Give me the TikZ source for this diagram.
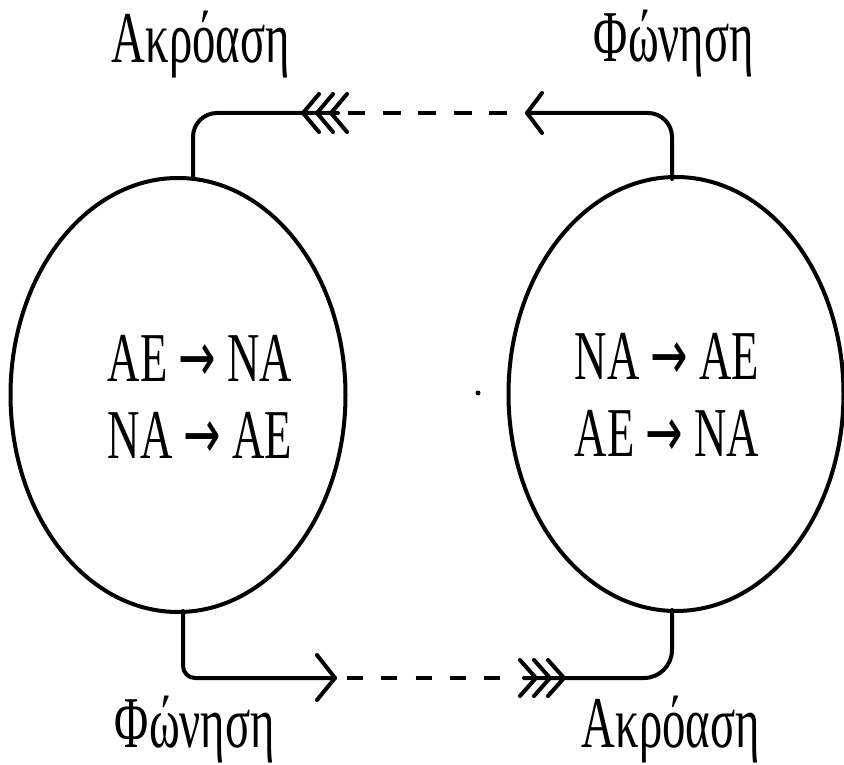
\documentclass[tikz,border=0pt]{standalone}
\usepackage{fontspec}
\setmainfont{Liberation Serif}
\newfontfamily\arrfont{DejaVu Sans}
\usepackage{graphicx}
\usetikzlibrary{shapes.geometric}
\newcommand\sqz[1]{\scalebox{0.64}[1]{#1}}
\newcommand\toarr{{\arrfont →}}
\begin{document}
\begin{tikzpicture}[x=1pt,y=-1pt, line width=4pt, line cap=round, line join=round,
  blob/.style={ellipse, draw, line width=4pt, minimum width=335pt, minimum height=434pt, inner sep=0pt},
  inner/.style={align=center, inner sep=0pt, font=\fontsize{70}{77}\selectfont},
  lbl/.style={anchor=base, inner sep=0pt, font=\fontsize{73}{80}\selectfont},
  link/.style={draw, line width=4pt, rounded corners=24pt},
  gap/.style={draw, line width=3.6pt, dash pattern=on 18pt off 17.5pt, line cap=butt}]
\useasboundingbox (0,0) rectangle (844,765);

% the two ellipses
\node[blob] (L) at (178,395) {};
\node[blob] (R) at (676,394) {};

% texts inside
\node[inner] (Lt) at (200,397) {\sqz{AE \toarr{} NA}\\\sqz{NA \toarr{} AE}};
\node[inner] (Rt) at (667,395) {\sqz{NA \toarr{} AE}\\\sqz{AE \toarr{} NA}};

% labels
\node[lbl] (tlL) at (201,63) {\sqz{Ακρόαση}};
\node[lbl] (trL) at (674,62) {\sqz{Φώνηση}};
\node[lbl] (blL) at (195,747) {\sqz{Φώνηση}};
\node[lbl] (brL) at (671,747) {\sqz{Ακρόαση}};

% connector points
\coordinate (tlA) at (193,179);
\coordinate (tlB) at (338,113);
\coordinate (trA) at (672,179);
\coordinate (trB) at (527,113);
\coordinate (blA) at (183,611);
\coordinate (blB) at (335,678);
\coordinate (brA) at (672,610);
\coordinate (brB) at (524,678);
\coordinate (tdA) at (348,113);
\coordinate (tdB) at (507,113);
\coordinate (bdA) at (347,678);
\coordinate (bdB) at (500,678);

% top: speech (right) -> hearing (left)
\draw[link] (trA) |- (trB);
\draw (542,93) -- (trB) -- (542,133);
\draw[gap] (tdB) -- (tdA);
\draw[link] (tlA) |- (tlB);
\foreach \t in {303,317,331}{\draw (\t+16,94) -- (\t,113) -- (\t+16,132);}

% bottom: speech (left) -> hearing (right)
\draw[line width=4pt, rounded corners=12pt] (blA) |- (blB);
\draw (317,655) -- (blB) -- (317,700);
\draw[gap, dash pattern=on 16pt off 18.25pt] (bdA) -- (bdB);
\draw[link, rounded corners=28pt] (brB) -| (brA);
\foreach \t in {536,550,564}{\draw (\t-16,660) -- (\t,678) -- (\t-16,696);}

% stray mark
\fill (478,393) circle (2.5pt);
\end{tikzpicture}
\end{document}
